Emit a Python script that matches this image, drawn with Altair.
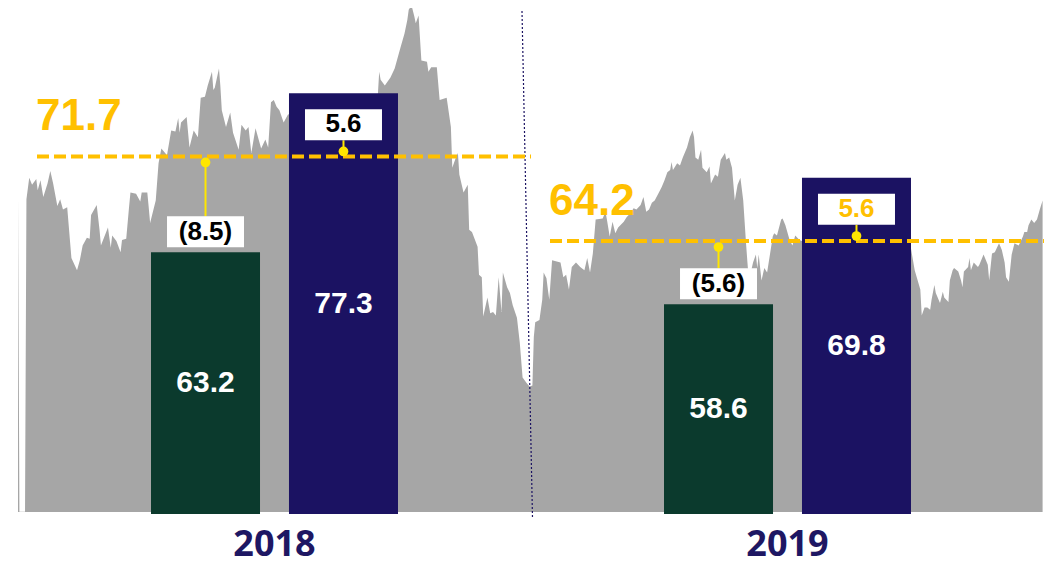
import altair as alt
import pandas as pd

# ---------------- data ----------------
years = ["2018", "2019"]
series = ["Actual", "Plan"]
bars_2018 = [63.2, 77.3]
bars_2019 = [58.6, 69.8]
avg_price = [71.7, 64.2]

# background price series (day of year, price)
price_2018_day = [0, 1, 5, 6, 8, 10, 13, 14, 16, 18, 21, 23, 25, 28, 30, 32, 35, 38, 42, 44,
                  46, 49, 51, 52, 56, 58, 59, 64, 66, 67, 70, 73, 74, 77, 79, 80, 84, 87, 88, 92,
                  93, 94, 98, 100, 102, 106, 109, 112, 114, 115, 116, 120, 122, 125, 128, 130, 133, 135, 138, 139,
                  140, 143, 144, 145, 148, 151, 153, 157, 159, 162, 164, 166, 169, 173, 176, 178, 180, 182, 184, 186,
                  189, 192, 206, 220, 234, 249, 256, 257, 258, 261, 265, 268, 272, 275, 277, 278, 280, 282, 283, 285,
                  287, 291, 292, 294, 298, 300, 305, 308, 309, 311, 313, 314, 317, 320, 321, 323, 327, 328, 330, 331,
                  334, 336, 338, 340, 342, 344, 345, 348, 350, 352, 355, 357, 359, 362, 364]
price_2018_val = [68.1, 40.2, 40.2, 67.9, 69.8, 69.2, 69.7, 68.7, 69.6, 68.1,
                  69.3, 70.4, 69.3, 67.3, 67.9, 67.0, 67.2, 62.7, 61.6, 62.5,
                  63.8, 64.5, 64.4, 66.5, 67.4, 65.2, 63.8, 65.4, 63.6, 64.7,
                  64.2, 63.2, 64.3, 64.4, 67.2, 68.5, 68.4, 67.7, 68.5, 68.5,
                  67.2, 65.8, 67.8, 71.1, 72.4, 71.8, 74.0, 73.9, 75.1, 73.8,
                  74.7, 75.2, 72.5, 74.0, 73.4, 76.9, 77.0, 78.0, 79.2, 77.6,
                  77.8, 79.5, 77.9, 75.8, 74.3, 75.6, 73.8, 72.3, 74.5, 74.0,
                  74.3, 72.0, 74.2, 72.4, 73.2, 72.5, 76.5, 76.7, 76.1, 75.8,
                  74.7, 75.4, 76.3, 76.7, 76.7, 77.1, 77.1, 79.2, 78.5, 78.0,
                  78.7, 79.5, 81.3, 82.6, 83.8, 84.7, 85.1, 84.1, 83.5, 84.2,
                  80.2, 80.1, 79.2, 79.6, 79.6, 76.7, 76.9, 74.3, 70.7, 71.4,
                  72.0, 70.1, 68.5, 69.2, 65.2, 65.0, 63.7, 61.2, 61.0, 57.5,
                  59.2, 57.8, 57.9, 57.6, 61.0, 57.9, 61.4, 60.1, 59.6, 58.5,
                  57.4, 55.2, 52.1, 51.6, 51.3]
price_2019_day = [1, 2, 3, 6, 8, 9, 11, 12, 13, 15, 21, 23, 25, 27, 29, 32, 35, 38, 40, 42,
                  44, 46, 51, 53, 54, 56, 58, 60, 62, 66, 68, 71, 73, 75, 78, 80, 82, 84, 86, 88,
                  91, 93, 95, 97, 99, 100, 101, 104, 106, 108, 111, 113, 115, 116, 117, 119, 121, 122, 125, 127,
                  128, 131, 133, 135, 138, 139, 141, 143, 145, 147, 149, 151, 153, 154, 155, 158, 160, 161, 162, 164,
                  166, 168, 172, 173, 175, 178, 179, 181, 184, 186, 188, 191, 208, 229, 251, 268, 270, 273, 277, 278,
                  280, 282, 284, 285, 287, 288, 291, 293, 294, 297, 298, 300, 301, 304, 306, 307, 308, 311, 312, 313,
                  315, 318, 319, 322, 325, 326, 328, 330, 333, 335, 337, 338, 340, 342, 344, 347, 350, 351, 353, 354,
                  356, 358, 360, 362, 364]
price_2019_val = [51.4, 55.7, 57.0, 57.2, 59.0, 61.4, 60.9, 59.9, 59.0, 62.5,
                  62.3, 61.0, 61.2, 59.9, 61.9, 62.3, 61.9, 61.6, 62.7, 61.4,
                  63.1, 66.1, 66.2, 66.8, 66.1, 64.6, 65.9, 64.9, 65.4, 65.9,
                  66.3, 66.7, 67.1, 67.0, 67.4, 68.1, 66.8, 67.0, 67.6, 67.8,
                  68.5, 69.0, 69.6, 70.3, 70.5, 71.2, 70.5, 71.1, 70.9, 71.6,
                  72.5, 73.4, 74.0, 73.4, 71.6, 71.4, 72.3, 70.7, 70.3, 70.8,
                  69.3, 70.1, 69.9, 71.4, 72.0, 71.4, 71.6, 70.7, 67.8, 69.2,
                  69.8, 67.8, 64.0, 62.3, 60.7, 62.3, 63.0, 61.8, 63.0, 60.7,
                  61.8, 61.4, 64.6, 64.9, 64.7, 66.1, 66.2, 65.6, 64.3, 63.8,
                  64.7, 64.3, 63.4, 63.8, 64.3, 64.5, 63.8, 61.6, 59.9, 57.6,
                  58.3, 58.3, 58.1, 59.0, 60.3, 59.6, 58.7, 59.7, 59.2, 58.8,
                  60.7, 61.6, 61.8, 61.5, 60.7, 60.1, 61.5, 61.9, 62.7, 61.6,
                  62.3, 61.9, 62.1, 63.0, 62.1, 60.7, 63.1, 63.2, 64.0, 63.4,
                  62.3, 61.0, 60.6, 63.0, 64.0, 63.8, 64.6, 65.0, 65.0, 65.6,
                  66.1, 65.8, 66.1, 67.0, 67.8]

# ---------------- tables ----------------
price_df = pd.concat([
    pd.DataFrame({"date": pd.Timestamp("2018-01-01") + pd.to_timedelta(price_2018_day, unit="D"),
                  "price": price_2018_val}),
    pd.DataFrame({"date": pd.Timestamp("2019-01-01") + pd.to_timedelta(price_2019_day, unit="D"),
                  "price": price_2019_val}),
], ignore_index=True)

rows = []
for yr, vals, a in zip(years, [bars_2018, bars_2019], avg_price):
    for s, v in zip(series, vals):
        rows.append({"Year": yr, "Type": s, "value": v, "avg": a})
bars_df = pd.DataFrame(rows)

avg_df = pd.DataFrame({
    "Year": years,
    "avg": avg_price,
    "start": [pd.Timestamp(f"{y}-01-01") for y in years],
    "end": [pd.Timestamp(f"{int(y) + 1}-01-01") for y in years],
})

# ---------------- styles ----------------
GREEN = "#0B3A2D"
NAVY = "#1B1262"
GOLD = "#FFC000"
YELLOW = "#FFE600"
GREY = "#A6A6A6"
FONT = "Liberation Sans"

Y_SCALE = alt.Scale(domain=[40, 84.86], nice=False, zero=False)
DATE_SCALE = alt.Scale(domain=[alt.DateTime(year=2018, month=1, date=1),
                               alt.DateTime(year=2020, month=1, date=1)])
XB_SCALE = alt.Scale(paddingInner=0, paddingOuter=0)
XO_SCALE = alt.Scale(paddingInner=0.21, paddingOuter=0.964)


def yq(field):
    return alt.Y(field, scale=Y_SCALE, axis=None)


def xd(field):
    return alt.X(field, scale=DATE_SCALE, axis=None)


XB_AXIS = alt.X("Year:N", scale=XB_SCALE, title=None,
                axis=alt.Axis(labelAngle=0, labelFont="Open Sans", labelFontSize=36,
                              labelFontWeight="bold", labelColor="#1E1763",
                              ticks=False, tickSize=0, domain=False, labelPadding=41,
                              labelBaseline="alphabetic", title=None))
XB = alt.X("Year:N", scale=XB_SCALE, axis=None)
XO = alt.XOffset("Type:N", scale=XO_SCALE)

# ---------------- group 1: price area + divider ----------------
area = alt.Chart(price_df).mark_area(color=GREY, opacity=1).encode(
    x=xd("date:T"), y=yq("price:Q"), y2=alt.datum(40.18))

divider = alt.Chart(avg_df).transform_filter("datum.Year === '2019'").mark_rule(
    color=NAVY, strokeWidth=1.2, strokeDash=[2, 2], xOffset=-9, x2Offset=1.5
).encode(x=xd("start:T"), x2=alt.X2("start:T"), y=alt.value(3), y2=alt.value(510))

g1 = alt.layer(area, divider)

# ---------------- group 2: bars ----------------
bars = alt.Chart(bars_df).mark_bar().encode(
    x=XB_AXIS, xOffset=XO, y=yq("value:Q"), y2=alt.datum(40),
    color=alt.Color("Type:N", scale=alt.Scale(domain=series, range=[GREEN, NAVY]), legend=None))

bar_text = alt.Chart(bars_df).transform_calculate(mid="(datum.value + 40) / 2").mark_text(
    color="white", fontSize=30, fontWeight="bold", font=FONT, baseline="middle"
).encode(x=XB_AXIS, xOffset=XO, y=yq("mid:Q"), text=alt.Text("value:Q", format=".1f"))

g2 = alt.layer(bars, bar_text)

# ---------------- group 3: average lines ----------------
avg_line = alt.Chart(avg_df).mark_rule(
    color=GOLD, strokeWidth=4, strokeDash=[12, 5], xOffset=19, x2Offset=0
).encode(x=xd("start:T"), x2=alt.X2("end:T"), y=yq("avg:Q"))

avg_text = alt.Chart(avg_df).mark_text(
    align="left", baseline="alphabetic", dx=18, dy=-26, fontSize=44,
    fontWeight="bold", font=FONT, color=GOLD
).encode(x=xd("start:T"), y=yq("avg:Q"), text=alt.Text("avg:Q", format=".1f"))

g3 = alt.layer(avg_line, avg_text)

# ---------------- group 4: variance call-outs ----------------
calc = dict(
    lab="datum.value - datum.avg < 0 ? '(' + format(datum.avg - datum.value, '.1f') + ')' : format(datum.value - datum.avg, '.1f')",
)


def callout(kind, box_off, conn_off, dot_off, text_dy):
    base = alt.Chart(bars_df).transform_filter(f"datum.Type === '{kind}'").transform_calculate(**calc)
    conn = base.mark_rule(color=YELLOW, strokeWidth=2, yOffset=dot_off, y2Offset=conn_off).encode(
        x=XB, xOffset=XO, y=yq("avg:Q"), y2=alt.Y2("value:Q"))
    dot = base.mark_circle(color=YELLOW, size=95, opacity=1, yOffset=dot_off).encode(
        x=XB, xOffset=XO, y=yq("avg:Q"))
    box = base.mark_bar(color="white", width=77, yOffset=box_off[0], y2Offset=box_off[1]).encode(
        x=XB, xOffset=XO, y=yq("value:Q"), y2=alt.Y2("value:Q"))
    txt = base.mark_text(fontSize=26, fontWeight="bold", font=FONT, baseline="middle", dy=text_dy).encode(
        x=XB, xOffset=XO, y=yq("value:Q"), text="lab:N",
        color=alt.condition("datum.Type === 'Plan' && datum.Year === '2019'",
                            alt.value(GOLD), alt.value("black")))
    return [conn, dot, box, txt]


g4 = alt.layer(*callout("Actual", (-5, -36), -36, 6, -20),
               *callout("Plan", (16, 47), 47, -5, 31))

chart = alt.layer(g1, g2, g3, g4).resolve_scale(
    x="independent", xOffset="independent"
).properties(
    width=1026, height=506,
    autosize=alt.AutoSizeParams(type="none"),
    padding={"left": 10, "top": 0, "right": 0, "bottom": 53},
    background="white",
).configure_view(stroke=None)

chart.save("out.html", embed_options={"renderer": "svg", "actions": False})
